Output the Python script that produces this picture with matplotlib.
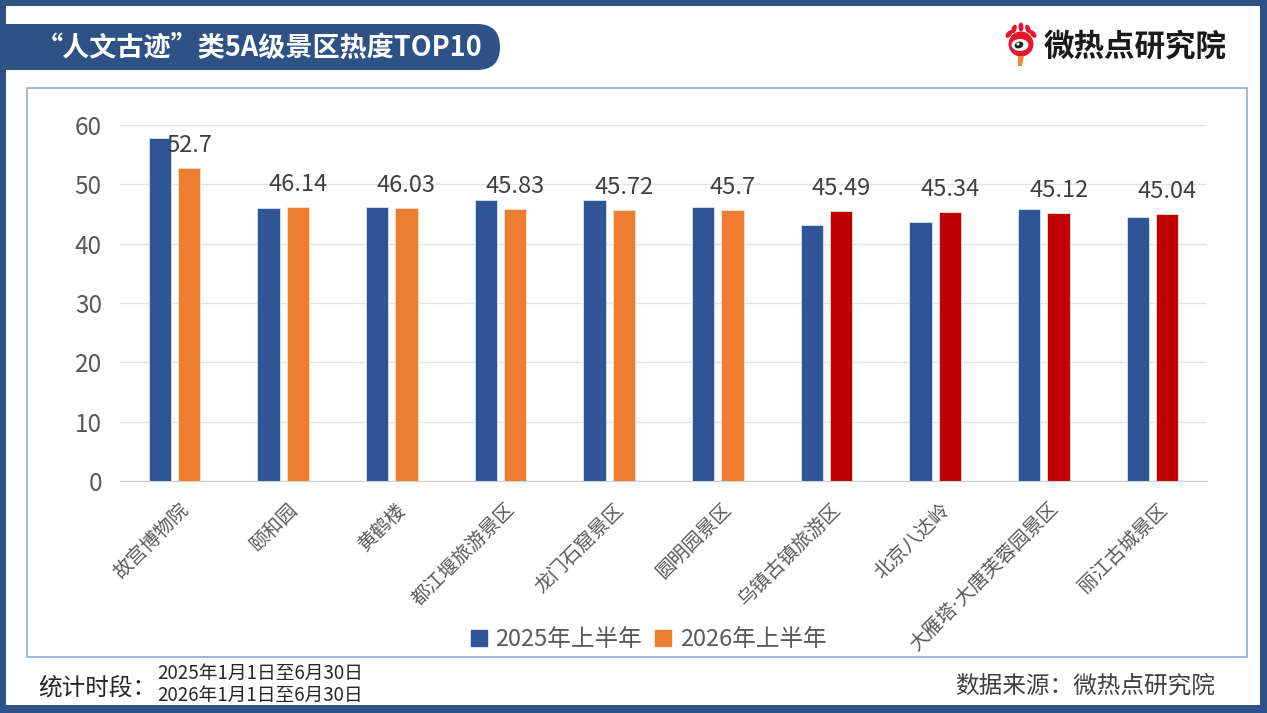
import matplotlib
matplotlib.use("Agg")
import matplotlib.pyplot as plt
from matplotlib.patches import Rectangle, FancyBboxPatch, Ellipse, Circle, Polygon
from matplotlib.lines import Line2D
import matplotlib.transforms as mtransforms

plt.rcParams['font.family'] = ['Noto Sans CJK SC', 'DejaVu Sans']

# ---------------- data ----------------
categories = ["故宫博物院", "颐和园", "黄鹤楼", "都江堰旅游景区", "龙门石窟景区",
              "圆明园景区", "乌镇古镇旅游区", "北京八达岭", "大雁塔·大唐芙蓉园景区", "丽江古城景区"]
values_2025 = [57.8, 46.0, 46.2, 47.4, 47.3, 46.2, 43.2, 43.65, 45.8, 44.45]
values_2026 = [52.7, 46.14, 46.03, 45.83, 45.72, 45.7, 45.49, 45.34, 45.12, 45.04]
labels_2026 = ["52.7", "46.14", "46.03", "45.83", "45.72", "45.7", "45.49", "45.34", "45.12", "45.04"]
highlight_2026 = [False, False, False, False, False, False, True, True, True, True]
series_names = ["2025年上半年", "2026年上半年"]
y_ticks = [0, 10, 20, 30, 40, 50, 60]

title = "“人文古迹”类5A级景区热度TOP10"
brand = "微热点研究院"
period_label = "统计时段："
period_lines = ["2025年1月1日至6月30日", "2026年1月1日至6月30日"]
source = "数据来源：微热点研究院"

# ---------------- style ----------------
BLUE = "#2F5597"
ORANGE = "#ED7D31"
RED = "#C00000"
FRAME = "#2E5286"
PANEL = "#8FAADC"
TXT = "#595959"

W, H = 1267, 713
fig = plt.figure(figsize=(W / 100, H / 100), dpi=100)
fig.patch.set_facecolor("white")

# background/decoration axes in pixel coordinates
bg = fig.add_axes([0, 0, 1, 1], zorder=0)
bg.set_xlim(0, W)
bg.set_ylim(H, 0)
bg.axis("off")

# outer frame
bg.add_patch(Rectangle((0, 0), W, 6, color=FRAME, lw=0))
bg.add_patch(Rectangle((0, 0), 6, H, color=FRAME, lw=0))
bg.add_patch(Rectangle((1260, 0), 7, H, color=FRAME, lw=0))
bg.add_patch(Rectangle((0, 705), W, 8, color=FRAME, lw=0))

# inner panel
bg.add_patch(Rectangle((27, 88), 1220, 569, fill=False, ec=PANEL, lw=1.2))

# title banner with rounded right end
bg.add_patch(FancyBboxPatch((-40, 24), 540, 46, boxstyle="round,pad=0,rounding_size=23",
                            fc=FRAME, ec="none", lw=0))
bg.add_patch(Rectangle((0, 24), 30, 46, color=FRAME, lw=0))
bg.text(36, 47, title, color="white", fontsize=19.5, fontweight="bold", va="center", ha="left")

# logo (weibo-like eye)
cx, cy = 1021, 44
for k, (dx, dy, w, h) in enumerate([(-12, -10, 9, 5), (-7, -15, 9, 5), (0, -17, 9, 5),
                                    (7, -15, 9, 5), (12, -10, 9, 5)]):
    bg.add_patch(Ellipse((cx + dx, cy + dy), w, h, angle=[-50, -70, 90, 70, 50][k],
                         color="#E6162D", lw=0))
bg.add_patch(Circle((cx, cy), 12.5, color="#E6162D", lw=0))
bg.add_patch(Ellipse((cx - 1, cy + 1), 17, 12, color="white", lw=0))
bg.add_patch(Ellipse((cx - 2, cy + 1), 9, 6.5, angle=-20, color="#222222", lw=0))
bg.add_patch(Circle((cx - 3, cy), 1.5, color="white", lw=0))
bg.add_patch(Polygon([(cx - 3, cy + 12), (cx + 3, cy + 12), (cx + 1, cy + 22), (cx - 3, cy + 22)],
                     closed=True, color="#F08A36", lw=0))
bg.text(1044, 47, brand, color="#1A1A1A", fontsize=22, fontweight="black", va="center", ha="left")

# bottom texts
bg.text(38, 688, period_label, color="#262626", fontsize=17, va="center", ha="left")
bg.text(157, 673, period_lines[0], color="#262626", fontsize=13.5, va="center", ha="left")
bg.text(157, 695, period_lines[1], color="#262626", fontsize=13.5, va="center", ha="left")
bg.text(1215, 686, source, color="#404040", fontsize=17, va="center", ha="right")

# ---------------- main chart ----------------
left, right, top, bottom = 120, 1207, 125, 481
ax = fig.add_axes([left / W, 1 - bottom / H, (right - left) / W, (bottom - top) / H], zorder=1)
ax.patch.set_alpha(0)

n = len(categories)
x = [i + 0.5 for i in range(n)]
bw = 0.205
off = 0.135
x1 = [v - off for v in x]
x2 = [v + off for v in x]
c2 = [RED if h else ORANGE for h in highlight_2026]

ax.bar(x1, values_2025, width=bw, color=BLUE, ec="#DCE3F0", lw=0.6, zorder=3)
ax.bar(x2, values_2026, width=bw, color=c2, ec="#F5E0D5", lw=0.6, zorder=3)

for xi, v, lab in zip(x2, values_2026, labels_2026):
    ax.annotate(lab, (xi, v), xytext=(0, 8), textcoords="offset points",
                ha="center", va="bottom", fontsize=17, color="#404040", zorder=5)

ax.set_xlim(0, n)
ax.set_ylim(0, 60)
ax.set_yticks(y_ticks)
ax.set_yticklabels([str(t) for t in y_ticks], fontsize=17.5, color=TXT)
ax.grid(axis="y", color="#E3E3E3", lw=1, zorder=0)
ax.set_axisbelow(True)
for s in ["top", "right", "left"]:
    ax.spines[s].set_visible(False)
ax.spines["bottom"].set_color("#D0D0D0")
ax.spines["bottom"].set_zorder(4)
ax.tick_params(axis="y", length=0, pad=13)
ax.tick_params(axis="x", length=0, pad=13)

ax.set_xticks(x)
ax.set_xticklabels(categories, rotation=45, ha="right", va="top", rotation_mode="anchor",
                   fontsize=14, color=TXT)
shift = mtransforms.ScaledTranslation(4 / 100, 0, fig.dpi_scale_trans)
for lab in ax.get_xticklabels():
    lab.set_transform(lab.get_transform() + shift)
    if "·" in lab.get_text():
        lab.set_family(['DejaVu Sans', 'Noto Sans CJK SC'])

# legend
handles = [Line2D([], [], marker="s", ls="none", color=BLUE, markersize=11),
           Line2D([], [], marker="s", ls="none", color=ORANGE, markersize=11)]
leg = fig.legend(handles, series_names, loc="center", bbox_to_anchor=(648 / W, 1 - 640 / H),
                 ncol=2, frameon=False, fontsize=17, handlelength=0.8, handletextpad=0.3,
                 columnspacing=0.5, labelcolor=TXT, borderaxespad=0)

fig.savefig("out.png", dpi=100)
